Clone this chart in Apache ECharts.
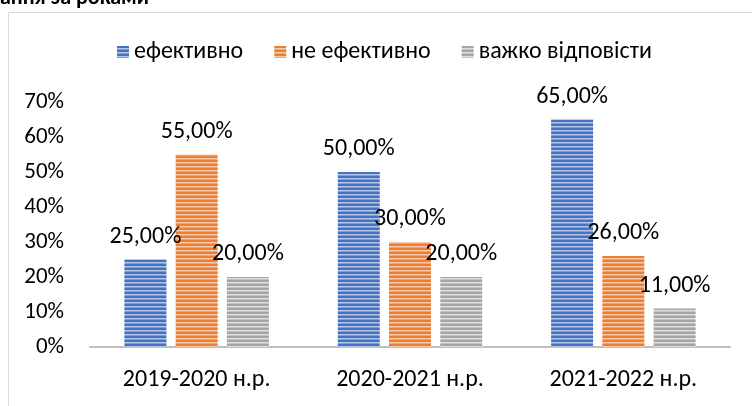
<!DOCTYPE html>
<html>
<head>
<meta charset="utf-8">
<script src="https://cdn.jsdelivr.net/npm/echarts@6/dist/echarts.min.js"></script>
<style>
  html, body { margin: 0; padding: 0; background: #fff; }
  #chart { width: 752px; height: 406px; }
</style>
</head>
<body>
<div id="chart"></div>
<script>
const categories = ['2019-2020 н.р.', '2020-2021 н.р.', '2021-2022 н.р.']
const seriesNames = ['ефективно', 'не ефективно', 'важко відповісти']
const effective = [25, 50, 65]
const notEffective = [55, 30, 26]
const hardToSay = [20, 20, 11]
const yMax = 70
const yStep = 10

const FONT = "Calibri, Carlito, 'Noto Sans', sans-serif"

// horizontal stripes like the Excel pattern fill
function stripes(dark, light) {
  const cv = document.createElement('canvas')
  cv.width = 8
  cv.height = 4
  const ctx = cv.getContext('2d')
  ctx.fillStyle = dark
  ctx.fillRect(0, 0, 8, 4)
  ctx.fillStyle = light
  ctx.fillRect(0, 2, 8, 1)
  ctx.globalAlpha = 0.5
  ctx.fillRect(0, 3, 8, 1)
  return { image: cv, repeat: 'repeat' }
}

const fills = [
  stripes('#4472c4', '#b4c7e7'),
  stripes('#ed7d31', '#f8cbad'),
  stripes('#a5a5a5', '#e0e0e0')
]
const values = [effective, notEffective, hardToSay]

const chart = echarts.init(document.getElementById('chart'), null, { renderer: 'canvas' })

const series = seriesNames.map((name, i) => ({
  name,
  type: 'bar',
  data: values[i],
  barWidth: 42,
  barGap: '22%',
  itemStyle: { color: fills[i] },
  label: {
    show: true,
    position: 'top',
    distance: 11,
    color: '#000',
    fontFamily: FONT,
    fontSize: 24,
    formatter: p => p.value.toFixed(2).replace('.', ',') + '%'
  }
}))

chart.setOption({
  animation: false,
  backgroundColor: '#fff',
  graphic: [
    {
      type: 'rect',
      shape: { x: 8.5, y: 12.5, width: 800, height: 500 },
      style: { fill: 'none', stroke: '#d9d9d9', lineWidth: 1 },
      silent: true
    },
    {
      type: 'text',
      left: 0,
      top: -13,
      style: { text: 'ання за роками', font: "bold 22px " + FONT, fill: '#000' },
      silent: true
    }
  ],
  legend: {
    data: seriesNames,
    left: 112,
    top: 35,
    itemWidth: 12,
    itemHeight: 12,
    itemGap: 31,
    icon: 'rect',
    textStyle: { fontFamily: FONT, fontSize: 24, color: '#000' }
  },
  grid: { left: 90, right: 22, top: 102, bottom: 59 },
  xAxis: {
    type: 'category',
    data: categories,
    axisLine: { lineStyle: { color: '#bfbfbf', width: 2 } },
    axisTick: { show: false },
    axisLabel: { margin: 21, color: '#000', fontFamily: FONT, fontSize: 24 }
  },
  yAxis: {
    type: 'value',
    min: 0,
    max: yMax,
    interval: yStep,
    axisLine: { show: false },
    axisTick: { show: false },
    splitLine: { show: false },
    axisLabel: { margin: 26, color: '#000', fontFamily: FONT, fontSize: 23, formatter: '{value}%' }
  },
  series
})
</script>
</body>
</html>
